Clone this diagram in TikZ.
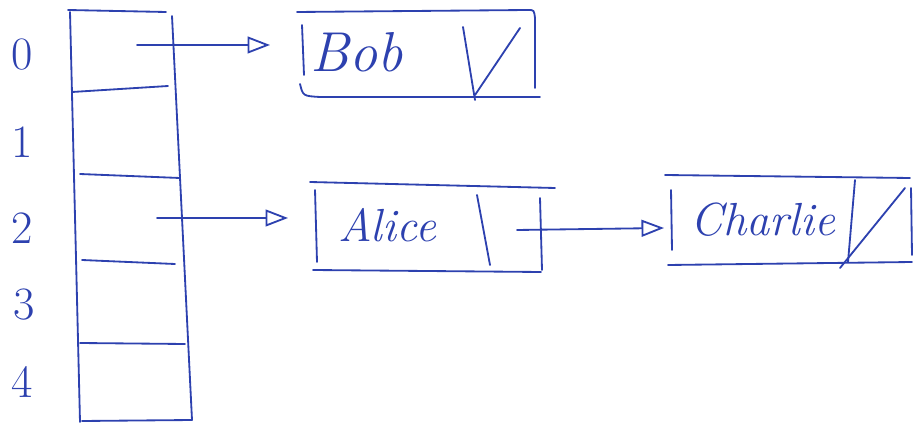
\documentclass[tikz,border=0pt]{standalone}
\usetikzlibrary{arrows.meta}
\definecolor{ink}{RGB}{45,65,175}
\begin{document}
\begin{tikzpicture}[x=0.025cm,y=-0.025cm, draw=ink, line width=1.3pt, line cap=round, line join=round,
  idx/.style={font=\fontsize{33}{36}\selectfont, text=ink},
  nm/.style={font=\fontsize{33}{36}\selectfont\itshape, text=ink, anchor=west, inner sep=0pt},
  ptr/.style={-{Triangle[open,length=16pt,width=12pt]}}]
\useasboundingbox (0,0) rectangle (919,431);
% hash array
\draw (68,10) -- (166,12);
\draw (70,12) -- (80,422);
\draw (172,16) -- (192,420) -- (82,421);
\draw (72,92) -- (168,86);
\draw (80,174) -- (180,178);
\draw (82,260) -- (175,264);
\draw (80,343) -- (185,344);
% indices
\node[idx] (i0) at (22,55) {0};
\node[idx] (i1) at (22,142) {1};
\node[idx] (i2) at (22,228) {2};
\node[idx] (i3) at (24,305) {3};
\node[idx] (i4) at (22,382) {4};
% pointer starts
\coordinate (c0) at (137,45);
\coordinate (c2) at (157,218);
% Bob element
\draw (297,12) -- (528,10) .. controls (534,10) .. (535,18) -- (535,88);
\draw (300,84) .. controls (303,96) .. (320,97) -- (540,97);
\draw (302,25) -- (304,75);
\node[nm, font=\fontsize{40}{44}\selectfont\itshape] (bob) at (310,52) {Bob};
\draw (463,27) -- (475,100);
\draw (475,95) -- (520,28);
\coordinate (bobL) at (270,45);
% Alice element
\draw (310,182) -- (555,188);
\draw (313,270) -- (541,272);
\draw (315,190) -- (317,262);
\node[nm] (alice) at (338,225) {Alice};
\draw (477,195) -- (490,265);
\draw (540,198) -- (542,270);
\coordinate (aliceL) at (288,218);
\coordinate (a2) at (517,230);
% Charlie element
\draw (665,175) -- (910,178);
\draw (668,265) -- (912,262);
\draw (671,190) -- (672,250);
\node[nm] (charlie) at (690,220) {Charlie};
\draw (855,180) -- (848,262);
\draw (840,268) -- (905,188);
\draw (911,188) -- (912,255);
\coordinate (charlieL) at (664,228);
% connectors
\draw[ptr] (c0) -- (bobL);
\draw[ptr] (c2) -- (aliceL);
\draw[ptr] (a2) -- (charlieL);
\end{tikzpicture}
\end{document}
